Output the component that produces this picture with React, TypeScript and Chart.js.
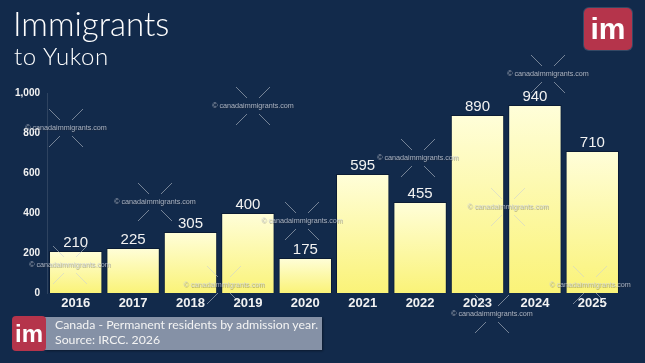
import React, { useEffect, useRef } from "react";
import { Chart, registerables } from "chart.js";

Chart.register(...registerables);

const years = ["2016", "2017", "2018", "2019", "2020", "2021", "2022", "2023", "2024", "2025"];
const residents = [210, 225, 305, 400, 175, 595, 455, 890, 940, 710];
const yTicks = [0, 200, 400, 600, 800, 1000];
const titleLine1 = "Immigrants";
const titleLine2 = "to Yukon";
const footerLine1 = "Canada - Permanent residents by admission year.";
const footerLine2 = "Source: IRCC. 2026";
const watermarkText = "© canadaimmigrants.com";
const watermarkSpots: [number, number][] = [
  [66, 128], [253, 106], [155, 202], [302, 221], [70, 265], [418, 158],
  [508, 207], [548, 74], [492, 314], [590, 285], [224, 285],
];

const BG = "#122a4b";

export default function App() {
  const ref = useRef<HTMLCanvasElement | null>(null);
  useEffect(() => {
    document.body.style.margin = "0";
    const canvas = ref.current!;
    const valueLabels = {
      id: "valueLabels",
      afterDatasetsDraw(chart: any) {
        const ctx = chart.ctx;
        const meta = chart.getDatasetMeta(0);
        ctx.save();
        ctx.font = "15px 'Liberation Sans', Arial, sans-serif";
        ctx.fillStyle = "#f2f2f2";
        ctx.textAlign = "center";
        ctx.textBaseline = "bottom";
        meta.data.forEach((bar: any, i: number) => {
          ctx.fillText(String(residents[i]), bar.x, bar.y - 1);
        });
        ctx.restore();
      },
    };
    const watermarks = {
      id: "watermarks",
      afterDraw(chart: any) {
        const ctx = chart.ctx;
        ctx.save();
        ctx.strokeStyle = "rgba(200,205,215,0.55)";
        ctx.lineWidth = 1;
        for (const [cx, cy] of watermarkSpots) {
          for (const sx of [-1, 1]) {
            for (const sy of [-1, 1]) {
              ctx.beginPath();
              ctx.moveTo(cx + sx * 6, cy + sy * 8);
              ctx.lineTo(cx + sx * 17, cy + sy * 19);
              ctx.stroke();
            }
          }
          ctx.font = "7.2px 'Liberation Sans', Arial, sans-serif";
          ctx.textAlign = "center";
          ctx.textBaseline = "middle";
          ctx.fillStyle = "rgba(40,40,50,0.35)";
          ctx.fillText(watermarkText, cx + 0.7, cy + 0.7);
          ctx.fillStyle = "rgba(205,210,220,0.8)";
          ctx.fillText(watermarkText, cx, cy);
        }
        ctx.restore();
      },
    };
    const chart = new Chart(canvas, {
      type: "bar",
      data: {
        labels: years,
        datasets: [
          {
            data: residents,
            borderColor: "#0b1c35",
            borderWidth: 1,
            barPercentage: 0.93,
            categoryPercentage: 1,
            backgroundColor: (c: any) => {
              const chart = c.chart;
              const area = chart.chartArea;
              if (!area || c.raw === undefined) return "#fbf58a";
              const y = chart.scales.y;
              const top = y.getPixelForValue(c.raw);
              const bottom = y.getPixelForValue(0);
              const g = chart.ctx.createLinearGradient(0, top, 0, bottom);
              g.addColorStop(0, "#fffed9");
              g.addColorStop(1, "#faf378");
              return g;
            },
          },
        ],
      },
      options: {
        animation: false,
        responsive: false,
        maintainAspectRatio: false,
        layout: { padding: { left: 0, right: 24, top: 93, bottom: 49 } },
        plugins: { legend: { display: false }, tooltip: { enabled: false } },
        scales: {
          x: {
            grid: { display: false, drawTicks: false },
            border: { display: false },
            ticks: {
              color: "#f2f2f2",
              padding: 3,
              font: { family: "'Liberation Sans', Arial, sans-serif", size: 13, weight: "bold" },
            },
            afterFit: (s: any) => { s.height = 21; },
          },
          y: {
            min: 0,
            max: 1000,
            afterBuildTicks: (s: any) => { s.ticks = yTicks.map((v) => ({ value: v })); },
            grid: { display: false, drawTicks: false },
            border: { display: true, color: "rgba(255,255,255,0.12)" },
            ticks: {
              color: "#f2f2f2",
              padding: 7,
              font: { family: "'Liberation Sans', Arial, sans-serif", size: 10, weight: "bold" },
              callback: (v: any) => Number(v).toLocaleString("en-US"),
            },
            afterFit: (s: any) => { s.width = 47; },
          },
        },
      },
      plugins: [valueLabels, watermarks],
    });
    return () => chart.destroy();
  }, []);

  const gothic = "'Lato', 'DejaVu Sans', sans-serif";
  return (
    <div style={{ position: "fixed", left: 0, top: 0, width: 645, height: 363, background: BG, overflow: "hidden" }}>
      <canvas ref={ref} width={645} height={363} style={{ position: "absolute", left: 0, top: 0, width: 645, height: 363 }} />
      <div style={{ position: "absolute", left: 13, top: 3, color: "#fff", fontFamily: gothic, fontWeight: 300, fontSize: 33, lineHeight: "40px", letterSpacing: 0 }}>{titleLine1}</div>
      <div style={{ position: "absolute", left: 14, top: 42, color: "#fff", fontFamily: gothic, fontWeight: 300, fontSize: 24, lineHeight: "28px", letterSpacing: 0.6 }}>{titleLine2}</div>
      <div style={{ position: "absolute", left: 584, top: 8, width: 48, height: 42, borderRadius: 5, background: "#b5344b", color: "#fff", fontFamily: "'Liberation Sans', Arial, sans-serif", fontWeight: "bold", fontSize: 30, lineHeight: "42px", textAlign: "center", boxShadow: "0 0 0 1px rgba(255,255,255,0.15)" }}>im</div>
      <div style={{ position: "absolute", left: 45, top: 317, width: 277, height: 33, background: "#8591a6", boxShadow: "1px 1px 2px rgba(0,0,0,0.4)" }} />
      <div style={{ position: "absolute", left: 55, top: 318, color: "#f4f4f4", fontFamily: gothic, fontSize: 12.3, lineHeight: "14.5px", whiteSpace: "nowrap" }}>
        <div>{footerLine1}</div>
        <div>{footerLine2}</div>
      </div>
      <div style={{ position: "absolute", left: 12, top: 316, width: 34, height: 35, borderRadius: 4, background: "#b5344b", color: "#fff", fontFamily: "'Liberation Sans', Arial, sans-serif", fontWeight: "bold", fontSize: 24, lineHeight: "35px", textAlign: "center" }}>im</div>
    </div>
  );
}
